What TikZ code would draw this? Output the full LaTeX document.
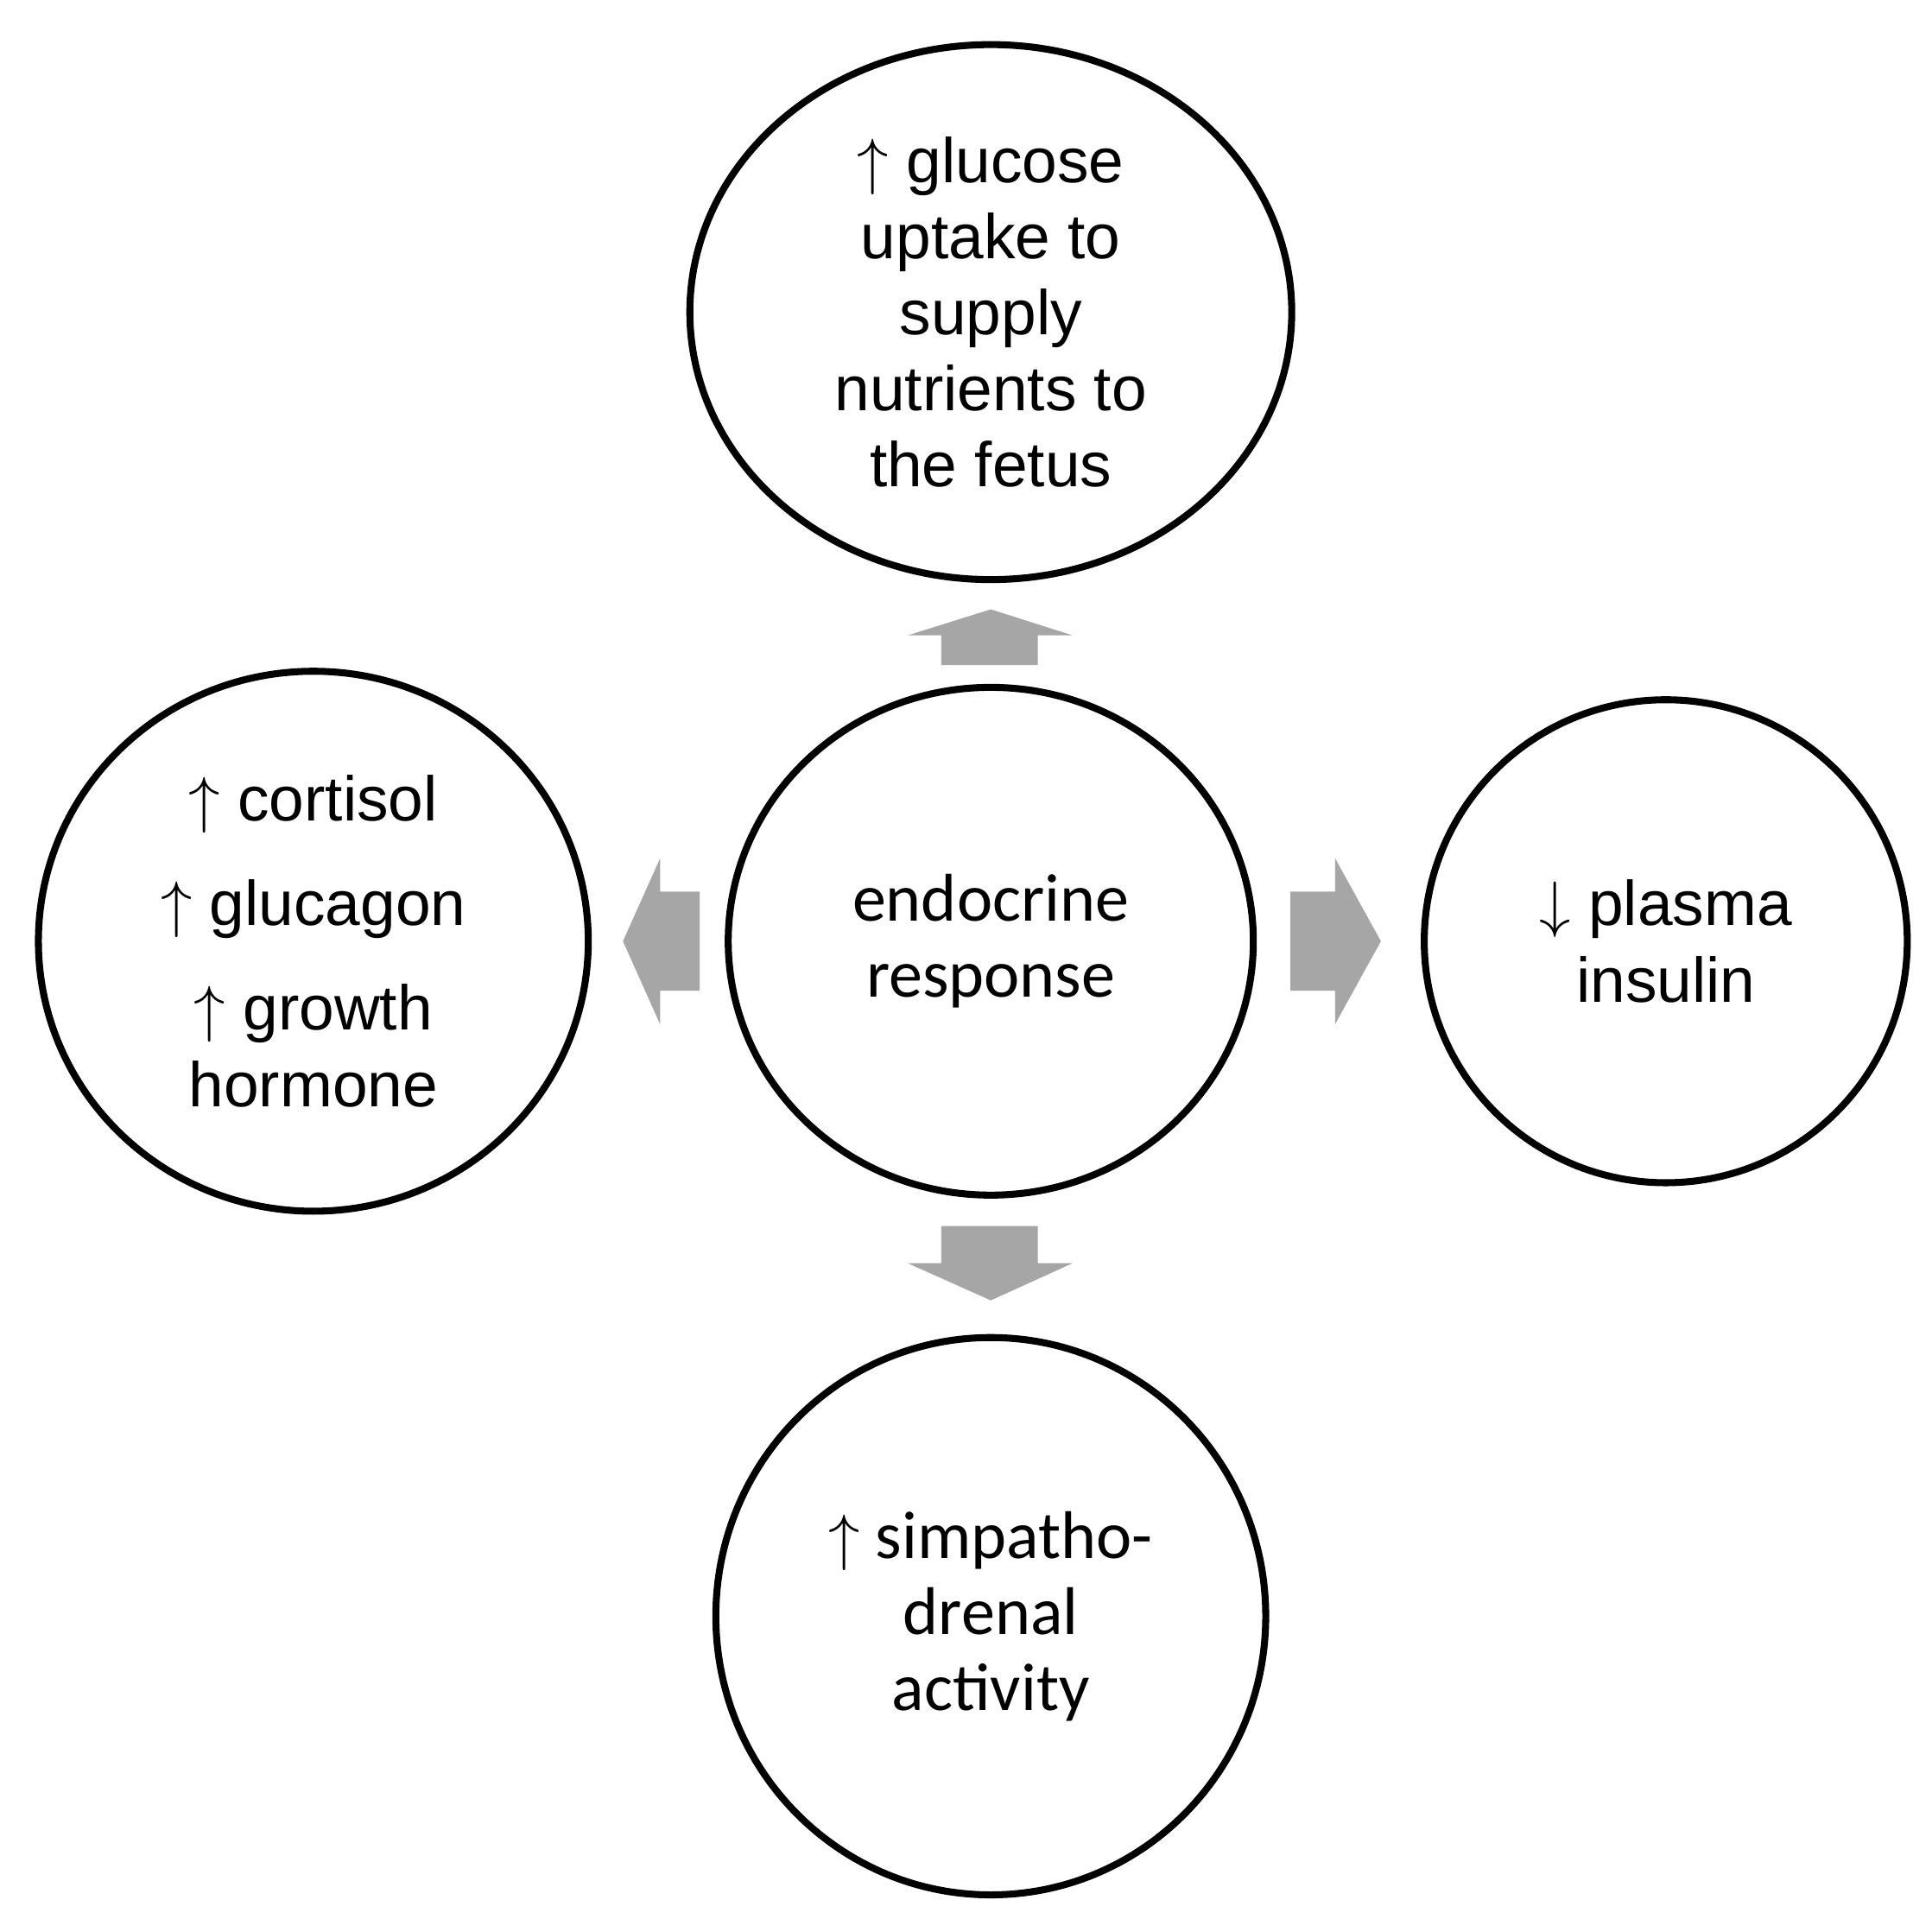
\documentclass[tikz,border=0pt]{standalone}
\usepackage{fontspec}
\setmainfont{Liberation Sans}
\newfontfamily\calib{Carlito}
\usetikzlibrary{shapes.geometric}
\tikzstyle{bubble} = [ellipse, draw=black, line width=1.6pt, inner sep=0pt, align=center, font=\fontsize{14.5}{17.5}\selectfont]
\tikzstyle{fat_arrow} = [fill=black!35, draw=none]
\begin{document}
\begin{tikzpicture}
\useasboundingbox (0,0) rectangle (15.6,-15.495);

\node[bubble, minimum width=4.86cm, minimum height=4.32cm] (top) at (8.00,-2.52) {$\uparrow$ glucose\\uptake to\\supply\\nutrients to\\the fetus};
\node[bubble, minimum width=4.44cm, minimum height=4.36cm, font=\fontsize{14.5}{21}\selectfont] (left) at (2.53,-7.60) {$\uparrow$ cortisol\\[3pt]$\uparrow$ glucagon\\[3pt]$\uparrow$ growth\\[-3.5pt]hormone};
\node[bubble, minimum width=4.24cm, minimum height=4.10cm, font=\calib\fontsize{15.5}{17.5}\selectfont] (center) at (8.00,-7.60) {endocrine\\response};
\node[bubble, minimum width=3.90cm, minimum height=3.90cm] (right) at (13.45,-7.60) {$\downarrow$ plasma\\insulin};
\node[bubble, minimum width=4.44cm, minimum height=4.50cm, font=\calib\fontsize{15.5}{17.5}\selectfont] (bottom) at (8.00,-13.05) {$\uparrow$ simpatho-\\drenal\\activity};

% block arrows
\draw[fat_arrow] (7.60,-5.37) -- (7.60,-5.13) -- (7.33,-5.13) -- (8.00,-4.92) -- (8.66,-5.13) -- (8.38,-5.13) -- (8.38,-5.37) -- cycle;
\draw[fat_arrow] (7.60,-9.90) -- (7.60,-10.20) -- (7.33,-10.20) -- (8.00,-10.50) -- (8.66,-10.20) -- (8.38,-10.20) -- (8.38,-9.90) -- cycle;
\draw[fat_arrow] (5.65,-7.20) -- (5.33,-7.20) -- (5.33,-6.93) -- (5.03,-7.60) -- (5.33,-8.27) -- (5.33,-8.00) -- (5.65,-8.00) -- cycle;
\draw[fat_arrow] (10.42,-7.20) -- (10.78,-7.20) -- (10.78,-6.93) -- (11.15,-7.60) -- (10.78,-8.27) -- (10.78,-8.00) -- (10.42,-8.00) -- cycle;
\end{tikzpicture}
\end{document}
